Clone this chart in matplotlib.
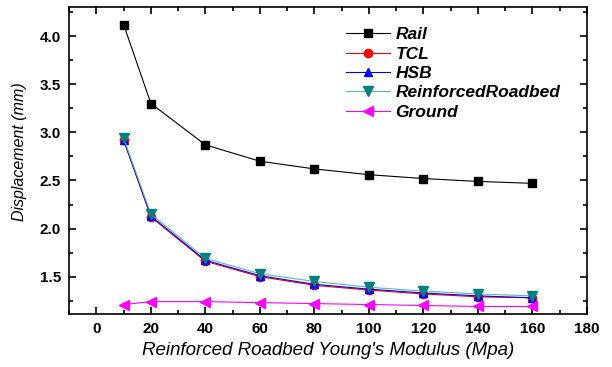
import matplotlib
matplotlib.use("Agg")
import matplotlib.pyplot as plt
from matplotlib.ticker import MultipleLocator

plt.rcParams['font.family'] = ['Liberation Sans', 'DejaVu Sans']

modulus = [10, 20, 40, 60, 80, 100, 120, 140, 160]
rail = [4.12, 3.30, 2.87, 2.70, 2.62, 2.56, 2.52, 2.49, 2.47]
tcl = [2.92, 2.12, 1.66, 1.50, 1.41, 1.36, 1.32, 1.29, 1.28]
hsb = [2.92, 2.13, 1.67, 1.51, 1.42, 1.37, 1.33, 1.30, 1.28]
roadbed = [2.94, 2.15, 1.69, 1.53, 1.45, 1.39, 1.35, 1.32, 1.30]
ground = [1.21, 1.24, 1.24, 1.23, 1.22, 1.21, 1.20, 1.19, 1.19]

fig = plt.figure(figsize=(6.12, 3.67), dpi=100)
ax = fig.add_axes([0.113, 0.144, 0.846, 0.836])

ms = 6
ax.plot(modulus, rail, color='black', lw=0.8, marker='s', ms=ms, label='Rail')
ax.plot(modulus, tcl, color='red', lw=0.8, marker='o', ms=ms, label='TCL')
ax.plot(modulus, hsb, color='blue', lw=0.8, marker='^', ms=ms, label='HSB')
ax.plot(modulus, roadbed, color='#5fb8b0', lw=0.8, marker='v', ms=ms + 1,
        mfc='#008080', mec='#008080', label='ReinforcedRoadbed')
ax.plot(modulus, ground, color='magenta', lw=0.8, marker='<', ms=ms + 1, label='Ground')

ax.set_xlim(-10, 180)
ax.set_ylim(1.11, 4.30)
ax.xaxis.set_major_locator(MultipleLocator(20))
ax.xaxis.set_minor_locator(MultipleLocator(10))
ax.yaxis.set_major_locator(MultipleLocator(0.5))
ax.yaxis.set_minor_locator(MultipleLocator(0.25))
ax.tick_params(which='both', direction='in', top=True, right=True, width=1.2)
ax.tick_params(which='major', length=5, labelsize=11, pad=6)
ax.tick_params(which='minor', length=3)
for lab in ax.get_xticklabels() + ax.get_yticklabels():
    lab.set_fontweight('bold')
for sp in ax.spines.values():
    sp.set_linewidth(1.2)

ax.set_xlabel("Reinforced Roadbed Young's Modulus (Mpa)", fontsize=13.5, style='italic')
ax.set_ylabel("Displacement (mm)", fontsize=11.5, style='italic')
ax.yaxis.set_label_coords(-0.082, 0.53)

leg = ax.legend(loc='upper left', bbox_to_anchor=(0.535, 0.935), frameon=False,
                prop={'weight': 'bold', 'style': 'italic', 'size': 12.5},
                handlelength=2.5, labelspacing=0.24, handletextpad=0.35,
                borderpad=0, borderaxespad=0)

fig.savefig("out.png", dpi=100)
